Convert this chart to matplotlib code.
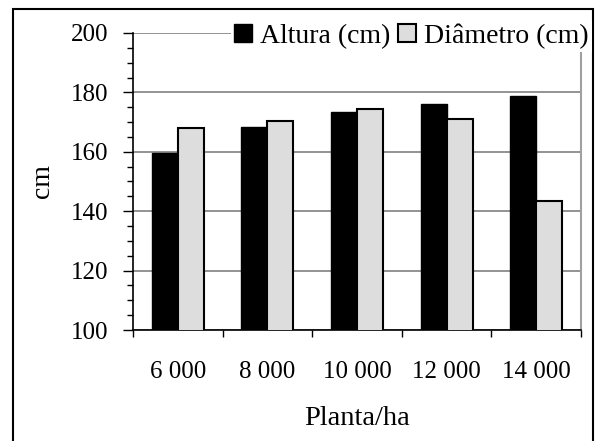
import numpy as np
import matplotlib
matplotlib.use("Agg")
import matplotlib.pyplot as plt
from matplotlib.patches import Rectangle
from matplotlib.ticker import MultipleLocator, FixedLocator

plt.rcParams['font.family'] = ['Liberation Serif', 'DejaVu Serif']

categorias = ["6 000", "8 000", "10 000", "12 000", "14 000"]
altura = [159.6, 168.5, 173.4, 176.1, 178.8]
diametro = [167.9, 170.5, 174.5, 171.2, 143.6]
series_labels = ["Altura (cm)", "Diâmetro (cm)"]

fig = plt.figure(figsize=(6.05, 4.41), dpi=100)
ax = fig.add_axes([0.2198, 0.2517, 0.7405, 0.6735])

x = np.arange(len(categorias))
w = 0.29
ax.bar(x - w / 2, altura, w, color='black', edgecolor='black', linewidth=1.0,
       label=series_labels[0], zorder=3)
ax.bar(x + w / 2, diametro, w, color='#dddddd', edgecolor='black', linewidth=1.5,
       label=series_labels[1], zorder=3)

ax.set_xlim(-0.5, len(categorias) - 0.5)
ax.set_ylim(100, 200)
ax.yaxis.set_major_locator(MultipleLocator(20))
ax.yaxis.set_minor_locator(MultipleLocator(5))
ax.grid(axis='y', color='#808080', linewidth=1.2, zorder=0)

ax.set_xticks(x)
ax.set_xticklabels(categorias, fontsize=18)
ax.xaxis.set_minor_locator(FixedLocator(np.arange(-0.5, len(categorias), 1.0)))
ax.tick_params(axis='x', which='major', length=0, pad=22)
ax.tick_params(axis='x', which='minor', length=5, width=1, direction='out')
ax.tick_params(axis='y', which='major', length=7, width=1, direction='out',
               labelsize=18, pad=11)
ax.tick_params(axis='y', which='minor', length=4, width=1, direction='out')

ax.spines['top'].set_visible(False)
ax.spines['right'].set_color('#a0a0a0')
ax.spines['right'].set_linewidth(1.5)
ax.spines['left'].set_linewidth(1.2)
ax.spines['bottom'].set_linewidth(1.2)

ax.set_xlabel("Planta/ha", fontsize=20.5, labelpad=17)
ax.set_ylabel("cm", fontsize=20, labelpad=11)

leg = fig.legend(loc='center right', bbox_to_anchor=(0.978, 0.918), ncol=2,
                 fontsize=20, frameon=True, fancybox=False, handlelength=0.65,
                 handleheight=0.65, handletextpad=0.29, columnspacing=0.29,
                 borderpad=0.1, borderaxespad=0)
leg.get_frame().set_facecolor('white')
leg.get_frame().set_edgecolor('none')
leg.get_frame().set_alpha(1)

fig.patches.append(Rectangle((0.022, -0.05), 0.958, 1.029, transform=fig.transFigure,
                             fill=False, edgecolor='black', linewidth=1.5))

fig.savefig("out.png", dpi=100)
